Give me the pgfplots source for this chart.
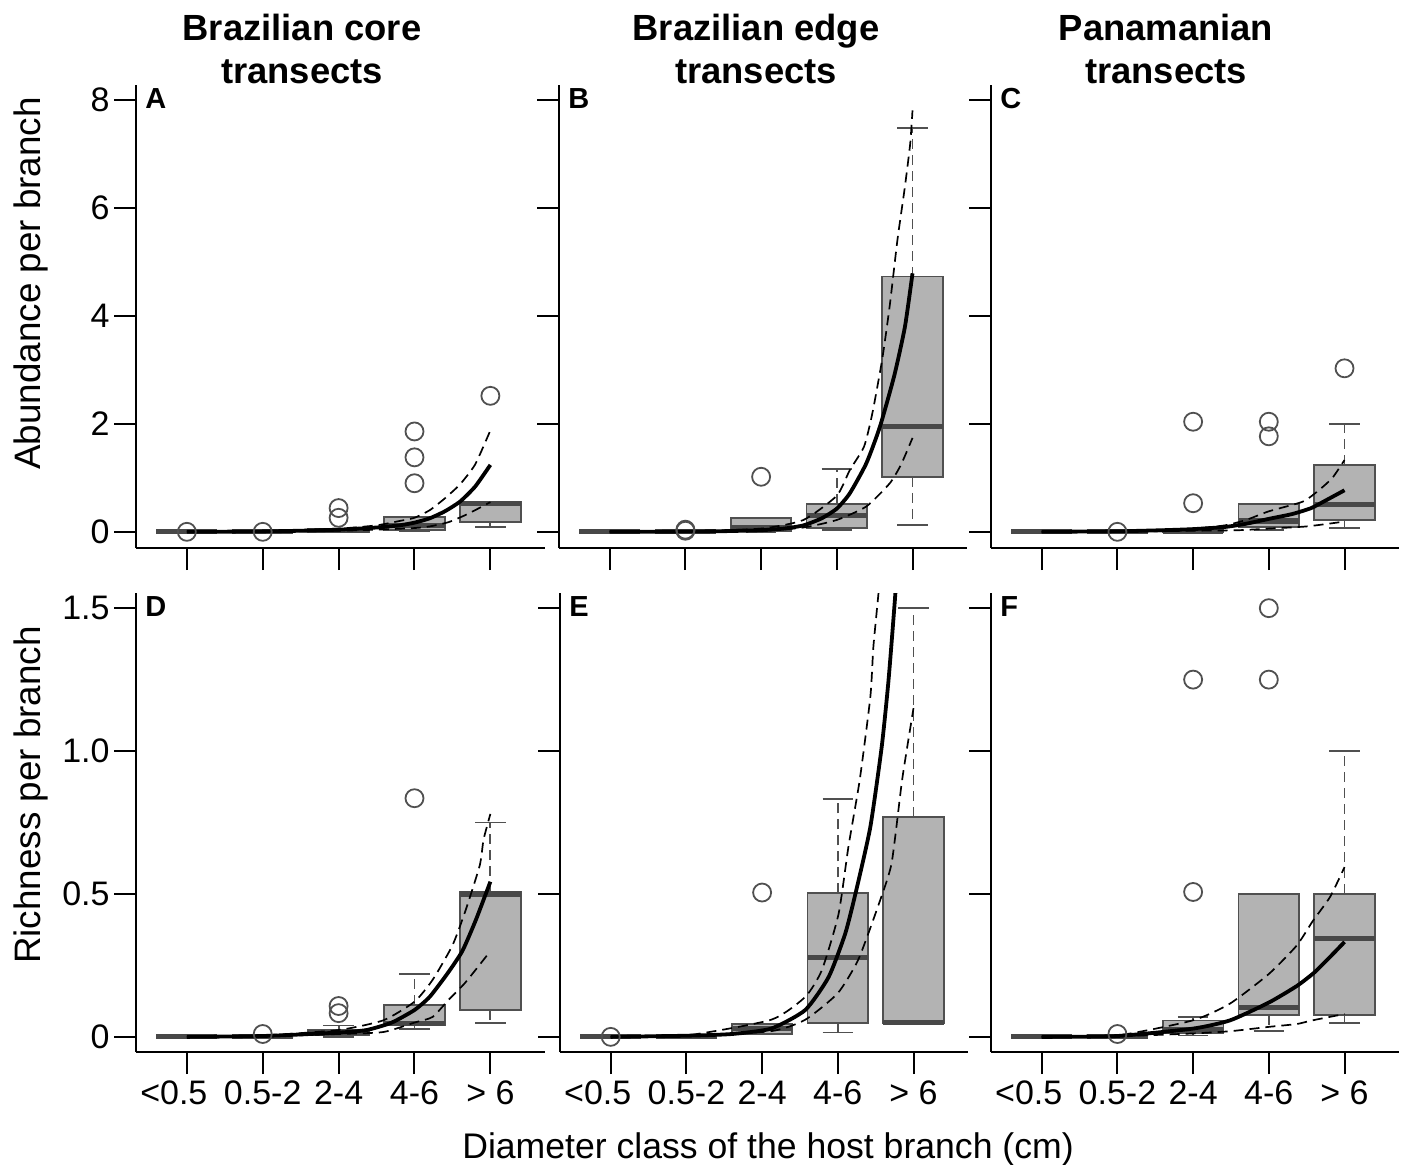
\documentclass[border=0pt]{standalone}
\usepackage{fontspec}
\setmainfont{Liberation Sans}
\usepackage{pgfplots}
\pgfplotsset{compat=1.18}
\usepgfplotslibrary{statistics}

\definecolor{boxfill}{HTML}{B3B3B3}
\definecolor{boxline}{HTML}{505050}
\definecolor{medc}{HTML}{484848}

\tikzset{whisk/.style={draw=boxline, line width=0.9pt}}

\pgfplotsset{
  panel/.style={
    scale only axis,
    xmin=0.33, xmax=5.72,
    axis x line=bottom, axis y line=left,
    axis line style={-, line width=1pt, black},
    tick align=outside, major tick length=11pt,
    tick style={line width=1pt, black},
    xtick={1,2,3,4,5},
    ticklabel style={font=\fontsize{17}{20}\selectfont},
    yticklabel style={inner xsep=2pt},
    anchor=south west,
  },
  upper/.style={height=231.5pt, ymin=-0.3, ymax=8.28, ytick={0,2,4,6,8}, xticklabels={}},
  lower/.style={height=229.5pt, ymin=-0.053, ymax=1.553, ytick={0,0.5,1,1.5},
    xticklabels={{<0.5\rule{13pt}{0pt}},{0.5-2},{2-4},{4-6},{> 6}}},
  mybox/.style={
    mark=o, mark size=4.5pt, mark options={draw=boxline, line width=0.9pt, solid},
    boxplot/draw direction=y,
    boxplot/box extend=0.8, boxplot/whisker extend=0.4,
    boxplot/every box/.style={draw=boxline, fill=boxfill, line width=0.9pt},
    boxplot/every median/.style={draw=medc, line width=2.6pt},
    boxplot/draw/lower whisker/.code={%
      \draw[whisk, dash pattern=on 5pt off 3pt]
        (boxplot box cs:\pgfplotsboxplotvalue{lower quartile},0.5) --
        (boxplot box cs:\pgfplotsboxplotvalue{lower whisker},0.5);
      \draw[whisk]
        (boxplot whisker cs:\pgfplotsboxplotvalue{lower whisker},0) --
        (boxplot whisker cs:\pgfplotsboxplotvalue{lower whisker},1);
    },
    boxplot/draw/upper whisker/.code={%
      \draw[whisk, dash pattern=on 5pt off 3pt]
        (boxplot box cs:\pgfplotsboxplotvalue{upper quartile},0.5) --
        (boxplot box cs:\pgfplotsboxplotvalue{upper whisker},0.5);
      \draw[whisk]
        (boxplot whisker cs:\pgfplotsboxplotvalue{upper whisker},0) --
        (boxplot whisker cs:\pgfplotsboxplotvalue{upper whisker},1);
    },
  },
  fit/.style={black, line width=1.9pt, smooth, tension=0.35},
  ci/.style={black, line width=0.85pt, dash pattern=on 5pt off 3pt, smooth, tension=0.35},
}
\newcommand{\letter}[1]{\node[anchor=north west, inner sep=0pt, font=\fontsize{14.5}{16}\selectfont\bfseries]
  at (rel axis cs:0,1) [xshift=4.5pt, yshift=-1.5pt] {#1};}

\begin{document}
\begin{tikzpicture}
\useasboundingbox (0pt,0pt) rectangle (701.5pt,-582pt);

% ---------- A: Brazilian core, abundance
\begin{axis}[panel, upper, at={(68pt,-274pt)}, width=204.5pt, yticklabels={0,2,4,6,8}]
\addplot[mybox, boxplot prepared={draw position=1, lower whisker=0, lower quartile=0, median=0, upper quartile=0, upper whisker=0}]
  table[row sep=\\, y index=0] {v\\ 0\\};
\addplot[mybox, boxplot prepared={draw position=2, lower whisker=0, lower quartile=0, median=0, upper quartile=0, upper whisker=0}]
  table[row sep=\\, y index=0] {v\\ 0\\};
\addplot[mybox, boxplot prepared={draw position=3, lower whisker=0, lower quartile=0, median=0.03, upper quartile=0.06, upper whisker=0.06}]
  table[row sep=\\, y index=0] {v\\ 0.26\\ 0.44\\};
\addplot[mybox, boxplot prepared={draw position=4, lower whisker=0.02, lower quartile=0.04, median=0.12, upper quartile=0.27, upper whisker=0.27}]
  table[row sep=\\, y index=0] {v\\ 0.9\\ 1.38\\ 1.86\\};
\addplot[mybox, boxplot prepared={draw position=5, lower whisker=0.09, lower quartile=0.18, median=0.52, upper quartile=0.55, upper whisker=0.55}]
  table[row sep=\\, y index=0] {v\\ 2.52\\};
\addplot[ci] coordinates {(1,0.01)(2,0.015)(3,0.06)(3.5,0.12)(3.8,0.2)(4,0.26)(4.2,0.4)(4.4,0.62)(4.6,0.88)(4.8,1.25)(5,1.88)};
\addplot[ci] coordinates {(1,0)(2,0.003)(3,0.02)(3.5,0.04)(4,0.07)(4.2,0.1)(4.45,0.18)(4.7,0.33)(5,0.55)};
\addplot[fit] coordinates {(1,0)(1.5,0.003)(2,0.008)(2.5,0.02)(3,0.04)(3.5,0.08)(3.8,0.12)(4,0.17)(4.2,0.25)(4.4,0.38)(4.6,0.56)(4.8,0.84)(5,1.24)};
\letter{A}
\end{axis}

% ---------- B: Brazilian edge, abundance
\begin{axis}[panel, upper, at={(279.5pt,-274pt)}, width=204pt, yticklabels={}]
\addplot[mybox, boxplot prepared={draw position=1, lower whisker=0, lower quartile=0, median=0, upper quartile=0, upper whisker=0}]
  coordinates {};
\addplot[mybox, boxplot prepared={draw position=2, lower whisker=0, lower quartile=0, median=0, upper quartile=0, upper whisker=0}]
  table[row sep=\\, y index=0] {v\\ 0.02\\ 0.04\\};
\addplot[mybox, boxplot prepared={draw position=3, lower whisker=0, lower quartile=0.02, median=0.08, upper quartile=0.25, upper whisker=0.25}]
  table[row sep=\\, y index=0] {v\\ 1.02\\};
\addplot[mybox, boxplot prepared={draw position=4, lower whisker=0.03, lower quartile=0.07, median=0.30, upper quartile=0.52, upper whisker=1.17}]
  coordinates {};
\addplot[mybox, boxplot prepared={draw position=5, lower whisker=0.12, lower quartile=1.02, median=1.95, upper quartile=4.73, upper whisker=7.49}]
  coordinates {};
\addplot[ci] coordinates {(1,0.005)(2,0.01)(3,0.06)(3.56,0.22)(4,0.67)(4.17,1.14)(4.36,1.58)(4.47,2.2)(4.6,3.2)(4.7,4.2)(4.8,5.4)(4.9,6.4)(4.97,7.2)(5,7.81)};
\addplot[ci] coordinates {(1,0)(2,0.003)(3,0.02)(3.56,0.08)(4,0.22)(4.39,0.47)(4.7,0.9)(4.85,1.25)(5,1.74)};
\addplot[fit] coordinates {(1,0)(2,0.005)(2.5,0.012)(3,0.03)(3.3,0.06)(3.56,0.12)(3.8,0.25)(4,0.43)(4.17,0.71)(4.39,1.27)(4.57,1.95)(4.76,2.9)(4.9,3.8)(5,4.79)};
\letter{B}
\end{axis}

% ---------- C: Panamanian, abundance
\begin{axis}[panel, upper, at={(495.5pt,-274pt)}, width=204pt, yticklabels={}]
\addplot[mybox, boxplot prepared={draw position=1, lower whisker=0, lower quartile=0, median=0, upper quartile=0, upper whisker=0}]
  coordinates {};
\addplot[mybox, boxplot prepared={draw position=2, lower whisker=0, lower quartile=0, median=0, upper quartile=0, upper whisker=0}]
  table[row sep=\\, y index=0] {v\\ 0\\};
\addplot[mybox, boxplot prepared={draw position=3, lower whisker=0, lower quartile=0, median=0.01, upper quartile=0.03, upper whisker=0.03}]
  table[row sep=\\, y index=0] {v\\ 0.53\\ 2.04\\};
\addplot[mybox, boxplot prepared={draw position=4, lower whisker=0.03, lower quartile=0.09, median=0.2, upper quartile=0.51, upper whisker=0.51}]
  table[row sep=\\, y index=0] {v\\ 1.77\\ 2.04\\};
\addplot[mybox, boxplot prepared={draw position=5, lower whisker=0.07, lower quartile=0.22, median=0.51, upper quartile=1.24, upper whisker=2.0}]
  table[row sep=\\, y index=0] {v\\ 3.03\\};
\addplot[ci] coordinates {(1,0)(2,0.01)(3,0.06)(3.42,0.12)(3.7,0.22)(4,0.38)(4.45,0.56)(4.66,0.77)(4.84,1.0)(5,1.33)};
\addplot[ci] coordinates {(1,0)(2,0.003)(3,0.02)(3.6,0.03)(4,0.06)(4.5,0.1)(5,0.19)};
\addplot[fit] coordinates {(1,0)(2,0.01)(2.6,0.03)(3,0.05)(3.42,0.09)(3.7,0.15)(4,0.24)(4.31,0.33)(4.56,0.44)(4.75,0.58)(5,0.77)};
\letter{C}
\end{axis}

% ---------- D: Brazilian core, richness
\begin{axis}[panel, lower, at={(68pt,-526pt)}, width=204.5pt, yticklabels={0,0.5,1.0,1.5}]
\addplot[mybox, boxplot prepared={draw position=1, lower whisker=0, lower quartile=0, median=0, upper quartile=0, upper whisker=0}]
  coordinates {};
\addplot[mybox, boxplot prepared={draw position=2, lower whisker=0, lower quartile=0, median=0, upper quartile=0, upper whisker=0}]
  table[row sep=\\, y index=0] {v\\ 0.01\\};
\addplot[mybox, boxplot prepared={draw position=3, lower whisker=0, lower quartile=0.005, median=0.015, upper quartile=0.024, upper whisker=0.04}]
  table[row sep=\\, y index=0] {v\\ 0.083\\ 0.108\\};
\addplot[mybox, boxplot prepared={draw position=4, lower whisker=0.027, lower quartile=0.042, median=0.048, upper quartile=0.112, upper whisker=0.22}]
  table[row sep=\\, y index=0] {v\\ 0.835\\};
\addplot[mybox, boxplot prepared={draw position=5, lower whisker=0.048, lower quartile=0.094, median=0.50, upper quartile=0.508, upper whisker=0.75}]
  coordinates {};
\addplot[ci] coordinates {(1,0)(2,0.005)(3,0.024)(3.59,0.058)(4,0.123)(4.24,0.2)(4.5,0.32)(4.67,0.44)(4.86,0.6)(4.91,0.69)(5,0.78)};
\addplot[ci] coordinates {(1,0)(2,0.002)(3,0.01)(3.59,0.017)(4,0.05)(4.24,0.07)(4.45,0.13)(4.67,0.19)(5,0.30)};
\addplot[fit] coordinates {(1,0)(2,0.003)(3,0.015)(3.37,0.024)(3.7,0.05)(4,0.094)(4.2,0.14)(4.43,0.22)(4.63,0.30)(4.81,0.41)(5,0.543)};
\letter{D}
\end{axis}

% ---------- E: Brazilian edge, richness
\begin{axis}[panel, lower, at={(280pt,-526pt)}, width=204pt, yticklabels={}]
\addplot[mybox, boxplot prepared={draw position=1, lower whisker=0, lower quartile=0, median=0, upper quartile=0, upper whisker=0}]
  table[row sep=\\, y index=0] {v\\ 0\\};
\addplot[mybox, boxplot prepared={draw position=2, lower whisker=0, lower quartile=0, median=0, upper quartile=0, upper whisker=0}]
  coordinates {};
\addplot[mybox, boxplot prepared={draw position=3, lower whisker=0.01, lower quartile=0.01, median=0.03, upper quartile=0.045, upper whisker=0.045}]
  table[row sep=\\, y index=0] {v\\ 0.505\\};
\addplot[mybox, boxplot prepared={draw position=4, lower whisker=0.015, lower quartile=0.048, median=0.277, upper quartile=0.502, upper whisker=0.832}]
  coordinates {};
\addplot[mybox, boxplot prepared={draw position=5, lower whisker=0.048, lower quartile=0.048, median=0.05, upper quartile=0.77, upper whisker=1.5}]
  coordinates {};
\addplot[ci] coordinates {(1,0)(2,0.005)(3.12,0.06)(3.57,0.14)(3.79,0.234)(4.01,0.43)(4.14,0.665)(4.29,0.9)(4.43,1.19)(4.47,1.365)(4.54,1.56)(4.6,1.75)};
\addplot[ci] coordinates {(1,0)(2,0.003)(3.12,0.02)(3.57,0.06)(4,0.153)(4.27,0.27)(4.53,0.456)(4.71,0.607)(4.85,0.9)(5,1.15)};
\addplot[fit] coordinates {(1,0)(2,0.004)(2.6,0.01)(3.12,0.029)(3.57,0.094)(3.88,0.21)(4.1,0.363)(4.25,0.52)(4.43,0.735)(4.58,1.015)(4.67,1.248)(4.76,1.55)(4.85,1.9)};
\letter{E}
\end{axis}

% ---------- F: Panamanian, richness
\begin{axis}[panel, lower, at={(495.5pt,-526pt)}, width=204pt, yticklabels={}]
\addplot[mybox, boxplot prepared={draw position=1, lower whisker=0, lower quartile=0, median=0, upper quartile=0, upper whisker=0}]
  coordinates {};
\addplot[mybox, boxplot prepared={draw position=2, lower whisker=0, lower quartile=0, median=0, upper quartile=0, upper whisker=0}]
  table[row sep=\\, y index=0] {v\\ 0.01\\};
\addplot[mybox, boxplot prepared={draw position=3, lower whisker=0.005, lower quartile=0.014, median=0.025, upper quartile=0.057, upper whisker=0.07}]
  table[row sep=\\, y index=0] {v\\ 0.507\\ 1.25\\};
\addplot[mybox, boxplot prepared={draw position=4, lower whisker=0.021, lower quartile=0.076, median=0.103, upper quartile=0.50, upper whisker=0.50}]
  table[row sep=\\, y index=0] {v\\ 1.25\\ 1.5\\};
\addplot[mybox, boxplot prepared={draw position=5, lower whisker=0.049, lower quartile=0.076, median=0.344, upper quartile=0.50, upper whisker=1.0}]
  coordinates {};
\addplot[ci] coordinates {(1,0)(2,0.005)(3,0.058)(3.49,0.117)(4,0.22)(4.37,0.32)(4.58,0.405)(4.81,0.49)(5,0.594)};
\addplot[ci] coordinates {(1,0)(2,0.002)(3,0.012)(3.5,0.02)(4,0.035)(4.37,0.045)(4.58,0.058)(5,0.08)};
\addplot[fit] coordinates {(1,0)(2,0.003)(3,0.029)(3.49,0.058)(4,0.12)(4.37,0.178)(4.6,0.225)(4.81,0.28)(5,0.332)};
\letter{F}
\end{axis}

% ---------- titles and axis labels
\begin{scope}[every node/.style={inner sep=0pt}]
\node[anchor=base, font=\fontsize{18.2}{21}\selectfont\bfseries] at (151pt,-20pt) {Brazilian core};
\node[anchor=base, font=\fontsize{18.2}{21}\selectfont\bfseries] at (151pt,-41.5pt) {transects};
\node[anchor=base, font=\fontsize{18.2}{21}\selectfont\bfseries] at (378pt,-20pt) {Brazilian edge};
\node[anchor=base, font=\fontsize{18.2}{21}\selectfont\bfseries] at (378pt,-41.5pt) {transects};
\node[anchor=base, font=\fontsize{18.2}{21}\selectfont\bfseries] at (583pt,-20pt) {Panamanian};
\node[anchor=base, font=\fontsize{18.2}{21}\selectfont\bfseries] at (583pt,-41.5pt) {transects};
\node[anchor=base, rotate=90, font=\fontsize{18.4}{21}\selectfont] at (20pt,-141.75pt) {Abundance per branch};
\node[anchor=base, rotate=90, font=\fontsize{18.4}{21}\selectfont] at (20pt,-397.5pt) {Richness per branch};
\node[anchor=base, font=\fontsize{17.8}{21}\selectfont] at (384pt,-579pt) {Diameter class of the host branch (cm)};
\end{scope}
\end{tikzpicture}
\end{document}
